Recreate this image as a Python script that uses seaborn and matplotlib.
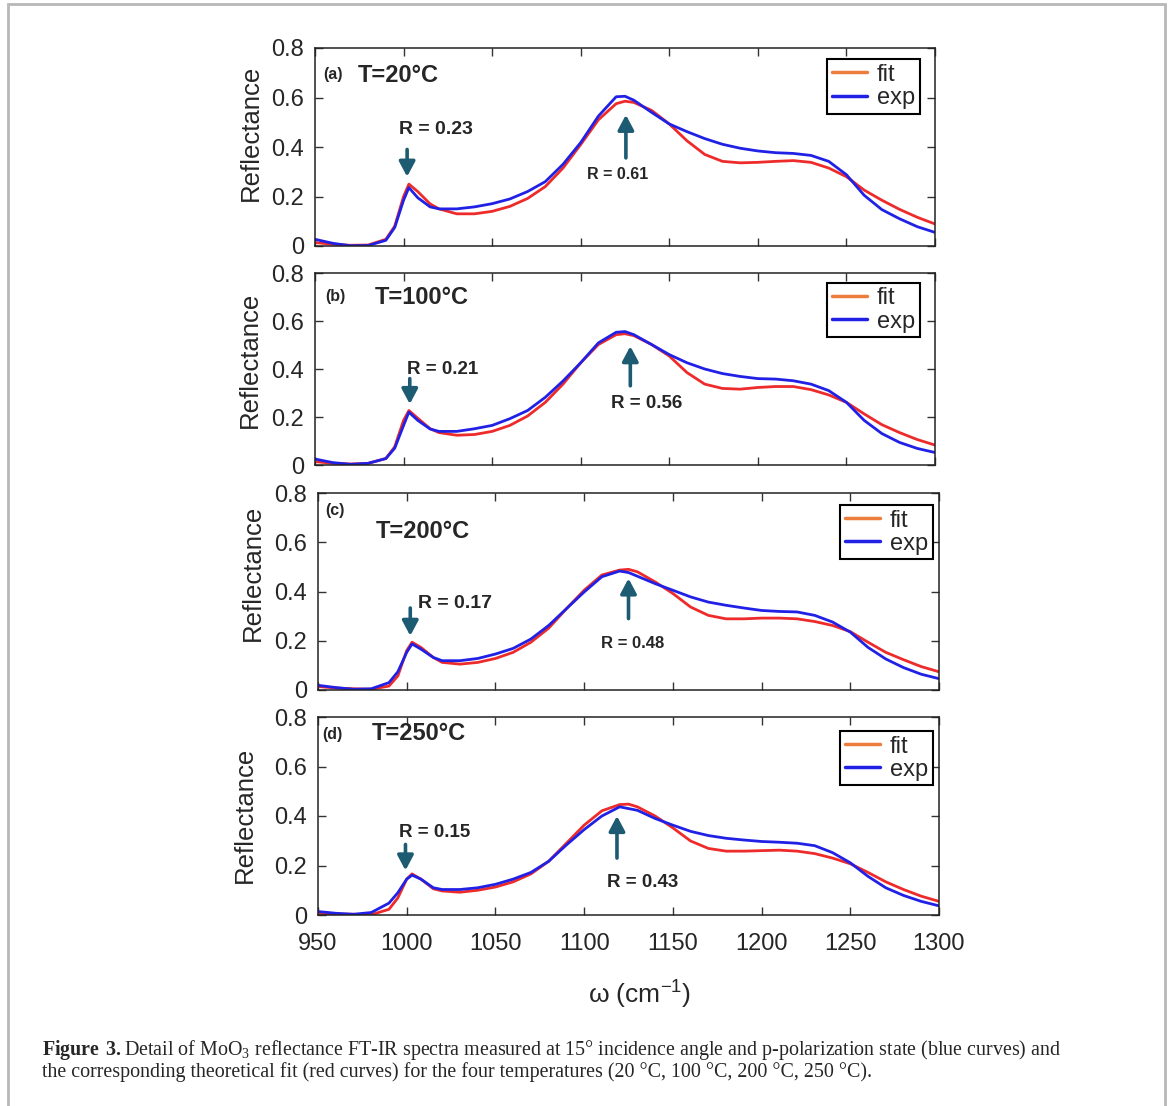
import numpy as np
import pandas as pd
import matplotlib
matplotlib.use("Agg")
import matplotlib.pyplot as plt
import seaborn as sns
from matplotlib.lines import Line2D
from matplotlib.patches import Rectangle

# wavenumber grid (cm-1)
wavenumber = [950, 960, 970, 980, 990, 995, 1000, 1003, 1008, 1015,
              1020, 1030, 1040, 1050, 1060, 1070, 1080, 1090, 1100, 1110,
              1120, 1125, 1130, 1140, 1150, 1160, 1170, 1180, 1190, 1200,
              1210, 1220, 1230, 1240, 1250, 1260, 1270, 1280, 1290, 1300]

fit_a = [.014, .007, .003, .004, .027, .080, .200, .250, .220, .170,
         .150, .130, .130, .140, .160, .192, .240, .315, .410, .510,
         .575, .585, .580, .548, .493, .425, .370, .342, .336, .338,
         .342, .345, .338, .315, .280, .226, .185, .148, .116, .089]
exp_a = [.027, .011, .001, .002, .023, .075, .185, .236, .195, .158,
         .150, .150, .158, .171, .190, .220, .260, .330, .418, .525,
         .603, .605, .589, .540, .493, .462, .434, .411, .395, .384,
         .377, .374, .366, .342, .288, .205, .147, .110, .078, .055]

fit_b = [.014, .007, .004, .007, .027, .076, .186, .227, .195, .151,
         .135, .124, .127, .140, .165, .204, .261, .337, .426, .502,
         .543, .547, .539, .502, .454, .385, .337, .319, .316, .323,
         .327, .327, .314, .292, .261, .213, .168, .135, .106, .083]
exp_b = [.025, .010, .003, .007, .027, .070, .165, .220, .186, .150,
         .140, .140, .151, .165, .193, .227, .282, .350, .426, .509,
         .553, .556, .543, .502, .460, .426, .400, .381, .369, .360,
         .358, .351, .337, .310, .261, .186, .131, .094, .069, .052]

fit_c = [.014, .008, .005, .003, .016, .057, .160, .194, .173, .132,
         .112, .105, .112, .128, .153, .194, .251, .330, .405, .467,
         .487, .490, .480, .439, .392, .337, .303, .289, .289, .292,
         .292, .289, .278, .262, .237, .194, .153, .123, .095, .074]
exp_c = [.019, .010, .003, .005, .030, .074, .153, .187, .166, .132,
         .119, .119, .128, .146, .169, .207, .262, .330, .398, .460,
         .483, .477, .462, .432, .405, .378, .357, .344, .333, .323,
         .319, .317, .303, .276, .235, .173, .126, .091, .064, .046]

fit_d = [.007, .004, .003, .001, .023, .069, .145, .166, .145, .106,
         .097, .092, .100, .113, .134, .166, .217, .290, .363, .421,
         .446, .448, .437, .400, .352, .299, .269, .258, .258, .260,
         .262, .258, .248, .230, .207, .172, .134, .103, .076, .055]
exp_d = [.014, .007, .003, .010, .048, .090, .145, .161, .145, .110,
         .103, .103, .110, .124, .145, .172, .217, .283, .345, .400,
         .437, .430, .423, .390, .363, .338, .321, .310, .303, .297,
         .294, .290, .280, .252, .211, .156, .110, .079, .055, .037]

panel_tags = ["(a)", "(b)", "(c)", "(d)"]
temps = ["T=20°C", "T=100°C", "T=200°C", "T=250°C"]

# peak markers: arrow x, arrow tail y, arrow tip y / label x, label y
low_labels = ["R = 0.23", "R = 0.21", "R = 0.17", "R = 0.15"]
low_arrow = [(1002, .39, .28), (1003.5, .36, .254), (1002, .333, .22), (999.3, .285, .18)]
low_text = [(1018, .47), (1022, .40), (1027, .35), (1016, .334)]
high_labels = ["R = 0.61", "R = 0.56", "R = 0.48", "R = 0.43"]
high_arrow = [(1125.5, .356, .53), (1128, .33, .495), (1125, .29, .453), (1118.5, .23, .40)]
high_text = [(1121, .29), (1137, .255), (1127.5, .19), (1133, .131)]

fits = [fit_a, fit_b, fit_c, fit_d]
exps = [exp_a, exp_b, exp_c, exp_d]

sns.set_style("ticks")
plt.rcParams["font.family"] = ["Liberation Sans", "DejaVu Sans"]
plt.rcParams["mathtext.fontset"] = "custom"
plt.rcParams["mathtext.rm"] = "Liberation Serif"
plt.rcParams["mathtext.bf"] = "Liberation Serif:bold"
plt.rcParams["mathtext.sf"] = "Liberation Sans"

W, H = 1168, 1106
fig = plt.figure(figsize=(W / 100, H / 100), dpi=100)


def fx(x):
    return x / W


def fy(y):
    return 1 - y / H


# axes boxes in pixels: left, right, top, bottom
boxes = [(315, 935, 48, 246), (315, 935, 273, 465),
         (318, 939, 493, 690), (318, 939, 717, 915)]
tag_pos = [(333, 75), (335, 297), (335, 510), (332, 735)]
temp_pos = [(358, 76), (375, 297), (376, 532), (372, 734)]
ylab_pos = [(251, 133), (250, 360), (253, 573), (245, 815)]
legend_anchor = [(0.975, 0.945), (0.975, 0.95), (0.99, 0.94), (0.99, 0.93)]
low_size = [14, 13.5, 14, 13.5]
high_size = [11.5, 13.5, 12, 13.5]

red = "#ee2b2b"
blue = "#2121e6"
teal = "#1d5b72"
arrow_kw = dict(arrowstyle="-|>,head_width=0.4,head_length=0.75", lw=2.6,
                color=teal, mutation_scale=12, shrinkA=0, shrinkB=0)

for i in range(4):
    l, r, t, b = boxes[i]
    ax = fig.add_axes([fx(l), fy(b), (r - l) / W, (b - t) / H])
    df = pd.DataFrame({
        "w": wavenumber * 2,
        "R": fits[i] + exps[i],
        "curve": ["fit"] * len(wavenumber) + ["exp"] * len(wavenumber),
    })
    sns.lineplot(data=df, x="w", y="R", hue="curve", hue_order=["fit", "exp"],
                 palette={"fit": red, "exp": blue}, estimator=None, sort=False,
                 lw=2, legend=False, ax=ax, solid_joinstyle="round")
    ax.set_xlim(950, 1300)
    ax.set_ylim(0, 0.8)
    ax.set_xticks(range(950, 1301, 50))
    ax.set_yticks([0, 0.2, 0.4, 0.6, 0.8])
    ax.set_yticklabels(["0", "0.2", "0.4", "0.6", "0.8"])
    ax.tick_params(direction="in", top=True, right=True, length=6, width=1,
                   labelsize=17, color="#333333")
    ax.tick_params(axis="y", pad=8)
    ax.tick_params(axis="x", pad=13)
    if i < 3:
        ax.set_xticklabels([])
    ax.set_xlabel("")
    ax.set_ylabel("")
    for s in ax.spines.values():
        s.set_color("#222222")
        s.set_linewidth(1.1)

    handles = [Line2D([], [], color="#ec7d3c", lw=2.5),
               Line2D([], [], color=blue, lw=2.5)]
    leg = ax.legend(handles, ["fit", "exp"], loc="upper right",
                    bbox_to_anchor=legend_anchor[i], fontsize=17,
                    handlelength=1.5, handletextpad=0.4, borderpad=0.2,
                    labelspacing=0.05, borderaxespad=0, fancybox=False,
                    framealpha=1)
    leg.get_frame().set_edgecolor("black")
    leg.get_frame().set_linewidth(1.5)

    x0, ya, yb = low_arrow[i]
    ax.annotate("", xy=(x0, yb), xytext=(x0, ya), arrowprops=arrow_kw)
    ax.text(low_text[i][0], low_text[i][1], low_labels[i], ha="center",
            va="center", fontsize=low_size[i], fontweight="bold")
    x0, ya, yb = high_arrow[i]
    ax.annotate("", xy=(x0, yb), xytext=(x0, ya), arrowprops=arrow_kw)
    ax.text(high_text[i][0], high_text[i][1], high_labels[i], ha="center",
            va="center", fontsize=high_size[i], fontweight="bold")

    fig.text(fx(tag_pos[i][0]), fy(tag_pos[i][1]), panel_tags[i], ha="center",
             va="center", fontsize=11.5, fontweight="bold")
    fig.text(fx(temp_pos[i][0]), fy(temp_pos[i][1]), temps[i], ha="left",
             va="center", fontsize=17, fontweight="bold")
    fig.text(fx(ylab_pos[i][0]), fy(ylab_pos[i][1]), "Reflectance", rotation=90,
             ha="center", va="center", fontsize=18.5)

fig.text(fx(640), fy(995), r"ω (cm$\mathsf{^{-1}}$)", ha="center", va="center",
         fontsize=19)

cap1 = (r"$\mathbf{Figure\ 3.}$Detail of MoO$_3$ reflectance FT-IR spectra measured "
        r"at 15° incidence angle and p-polarization state (blue curves) and")
cap2 = ("the corresponding theoretical fit (red curves) for the four temperatures "
        "(20 °C, 100 °C, 200 °C, 250 °C).")
fig.text(fx(42), fy(1050), cap1, ha="left", va="center", fontsize=14.4,
         family="Liberation Serif")
fig.text(fx(42), fy(1072), cap2, ha="left", va="center", fontsize=14.4,
         family="Liberation Serif")

fig.patches.append(Rectangle((fx(8), fy(1120)), fx(1157), (1116) / H,
                             transform=fig.transFigure, fill=False,
                             edgecolor="#b8b8b8", lw=2))

fig.savefig("out.png", dpi=100)
